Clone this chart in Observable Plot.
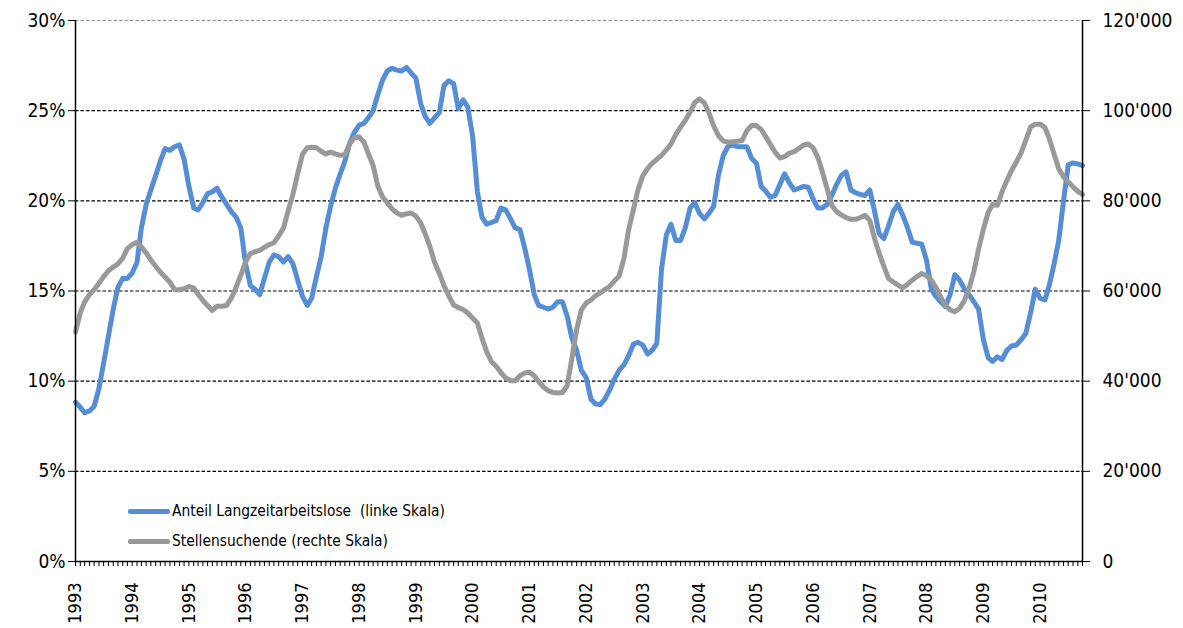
<!DOCTYPE html>
<html>
<head>
<meta charset="utf-8">
<script src="https://cdn.jsdelivr.net/npm/d3@7"></script>
<script src="https://cdn.jsdelivr.net/npm/@observablehq/plot@0.6"></script>
<style>
  html, body { margin: 0; padding: 0; background: #fff; }
  #wrap { position: relative; width: 1183px; height: 628px; font-family: 'DejaVu Sans Condensed', 'DejaVu Sans', sans-serif; font-stretch: condensed; }
  #legend { position: absolute; left: 128px; top: 496px; font-size: 15.4px; color: #000; }
  .item { display: flex; align-items: center; height: 30px; }
  .sw { width: 42px; height: 5px; border-radius: 2px; margin-right: 2px; }
</style>
</head>
<body>
<div id="wrap"><div id="legend"></div></div>
<script>
// Anteil Langzeitarbeitslose (%), monthly from Jan 1993
const startYear = 1993;
const langzeit = [
  8.83, 8.55, 8.25, 8.35, 8.6, 9.6, 11.0, 12.5, 14.0, 15.2, 15.7, 15.7,
  16.0, 16.6, 18.5, 19.8, 20.6, 21.4, 22.2, 22.9, 22.8, 23.0, 23.1, 22.3,
  20.8, 19.6, 19.5, 19.9, 20.4, 20.5, 20.7, 20.2, 19.8, 19.4, 19.1, 18.5,
  16.5, 15.3, 15.1, 14.8, 15.7, 16.6, 17.0, 16.9, 16.6, 16.9, 16.5, 15.6,
  14.7, 14.2, 14.6, 15.8, 16.9, 18.5, 19.7, 20.7, 21.5, 22.2, 23.2, 23.8,
  24.2, 24.3, 24.6, 25.0, 25.9, 26.7, 27.2, 27.35, 27.25, 27.2, 27.4, 27.1,
  26.8, 25.4, 24.7, 24.3, 24.6, 24.9, 26.4, 26.65, 26.5, 25.1, 25.6, 25.2,
  23.6, 20.5, 19.1, 18.7, 18.8, 18.9, 19.6, 19.5, 19.0, 18.5, 18.4, 17.4,
  16.2, 14.8, 14.2, 14.1, 14.0, 14.1, 14.4, 14.4, 13.6, 12.4, 11.7, 10.6,
  10.2, 9.0, 8.75, 8.7, 9.0, 9.5, 10.1, 10.6, 10.9, 11.4, 12.05, 12.15,
  12.0, 11.5, 11.7, 12.1, 16.2, 18.1, 18.7, 17.8, 17.8, 18.5, 19.6, 19.9,
  19.3, 19.0, 19.3, 19.7, 21.4, 22.5, 23.0, 23.1, 23.0, 23.0, 23.0, 22.35,
  22.1, 20.8, 20.55, 20.2, 20.3, 20.9, 21.5, 21.0, 20.6, 20.7, 20.8, 20.75,
  20.1, 19.6, 19.6, 19.8, 20.3, 20.9, 21.4, 21.6, 20.6, 20.45, 20.35, 20.3,
  20.6, 19.4, 18.2, 17.9, 18.6, 19.4, 19.8, 19.2, 18.5, 17.7, 17.65, 17.6,
  16.7, 15.1, 14.7, 14.4, 14.15, 14.8, 15.9, 15.6, 15.1, 14.8, 14.4, 14.0,
  12.3, 11.3, 11.1, 11.35, 11.2, 11.7, 11.95, 12.0, 12.3, 12.65, 13.8, 15.1,
  14.6, 14.5, 15.3, 16.5, 17.8, 20.0, 22.0, 22.1, 22.05, 21.95
];
// Stellensuchende (thousands), monthly from Jan 1993
const stellensuchende = [
  50.9, 55.2, 57.6, 59.2, 60.3, 61.7, 63.2, 64.5, 65.3, 66.0, 67.3, 69.4,
  70.3, 70.8, 69.8, 68.4, 66.9, 65.5, 64.2, 63.1, 61.9, 60.3, 60.3, 60.5,
  61.0, 60.7, 59.3, 57.9, 56.8, 55.7, 56.6, 56.6, 56.8, 58.4, 60.8, 63.5,
  66.5, 68.3, 68.7, 69.0, 69.7, 70.3, 70.7, 72.2, 74.0, 77.8, 81.5, 86.0,
  90.3, 91.8, 91.9, 91.8, 91.0, 90.4, 90.8, 90.4, 90.1, 90.2, 92.7, 94.0,
  94.2, 93.0, 90.5, 87.8, 83.3, 80.8, 79.6, 78.2, 77.3, 76.8, 77.1, 77.3,
  76.6, 75.1, 72.8, 69.9, 66.4, 63.9, 61.2, 58.9, 56.9, 56.3, 55.9, 55.1,
  54.0, 52.9, 49.6, 46.5, 44.3, 43.3, 41.9, 40.7, 40.1, 40.1, 41.2, 41.8,
  42.0, 41.2, 39.9, 38.7, 37.9, 37.5, 37.4, 37.5, 39.0, 45.0, 51.5, 55.8,
  57.3, 58.0, 58.9, 59.6, 60.3, 61.0, 62.2, 63.3, 67.2, 73.5, 78.0, 82.5,
  85.6, 87.2, 88.3, 89.2, 90.1, 91.3, 92.6, 94.7, 96.4, 97.8, 99.7, 101.8,
  102.6, 101.7, 99.6, 96.6, 94.5, 93.3, 93.0, 93.1, 93.2, 93.4, 95.6, 96.7,
  96.7, 95.8, 94.3, 92.5, 90.8, 89.5, 89.8, 90.6, 90.9, 91.6, 92.4, 92.6,
  91.8, 89.6, 86.5, 82.7, 79.0, 77.6, 76.9, 76.3, 75.9, 75.9, 76.3, 76.8,
  75.6, 71.6, 68.5, 65.5, 62.8, 62.0, 61.3, 60.7, 61.5, 62.4, 63.2, 63.9,
  63.4, 62.4, 60.8, 58.7, 56.8, 55.8, 55.4, 56.2, 57.9, 60.6, 64.3, 69.3,
  73.7, 77.4, 79.2, 79.0, 82.0, 84.5, 86.7, 88.6, 90.7, 93.4, 96.4, 97.0,
  97.0, 96.3, 93.8, 90.4, 87.1, 85.3, 84.2, 83.1, 82.1, 81.4
];
const years = [1993,1994,1995,1996,1997,1998,1999,2000,2001,2002,2003,2004,2005,2006,2007,2008,2009,2010];
const leftTicks = [0, 5, 10, 15, 20, 25, 30];          // percent
const rightTicks = [0, 20000, 40000, 60000, 80000, 100000, 120000];
const seriesNames = ["Anteil Langzeitarbeitslose  (linke Skala)", "Stellensuchende (rechte Skala)"];
const colors = ["#558ed5", "#999999"];

const months = langzeit.map((_, i) => new Date(Date.UTC(startYear, i, 1)));
const ratio = rightTicks[rightTicks.length - 1] / leftTicks[leftTicks.length - 1]; // 4000 per %
const rowsA = langzeit.map((v, i) => ({date: months[i], v}));
const rowsB = stellensuchende.map((v, i) => ({date: months[i], v: v * 1000 / ratio}));
const yearDates = years.map(y => new Date(Date.UTC(y, 0, 1)));
const fmtR = v => { const n = Math.round(v * ratio); return n === 0 ? "0" : d3.format(",")(n).replace(/,/g, "'"); };
const font = "'DejaVu Sans Condensed', 'DejaVu Sans', sans-serif";

const chart = Plot.plot({
  width: 1183, height: 628,
  marginLeft: 75, marginRight: 101, marginTop: 20, marginBottom: 67,
  style: {fontFamily: font, fontSize: "19px", background: "white", color: "black"},
  x: {type: "utc", domain: [months[0], months[months.length - 1]]},
  y: {domain: [0, 30]},
  marks: [
    Plot.ruleY(leftTicks.filter(t => t > 0 && t < 30), {stroke: "#000", strokeWidth: 1.2, strokeDasharray: "3.5,2"}),
    Plot.ruleY([30], {stroke: "#8c8c8c", strokeWidth: 1.2, strokeDasharray: "3.5,2"}),
    Plot.lineY(rowsA, {x: "date", y: "v", stroke: colors[0], strokeWidth: 5, strokeLinejoin: "round", strokeLinecap: "round"}),
    Plot.lineY(rowsB, {x: "date", y: "v", stroke: colors[1], strokeWidth: 5, strokeLinejoin: "round", strokeLinecap: "round"}),
    Plot.axisY({anchor: "left", ticks: leftTicks, tickFormat: d => d + "%", tickSize: 7, tickPadding: 3, label: null, fontSize: 19, stroke: "#000"}),
    Plot.axisY({anchor: "right", ticks: leftTicks, tickFormat: fmtR, tickSize: 7, tickPadding: 13, label: null, fontSize: 19, stroke: "#000"}),
    Plot.axisX({ticks: months, tickFormat: () => "", tickSize: 5, label: null, stroke: "#000"}),
    Plot.axisX({ticks: yearDates, tickFormat: d => String(d.getUTCFullYear()), tickSize: 0, tickPadding: 21, tickRotate: -90, label: null, fontSize: 18}),
    Plot.ruleX([months[0], months[months.length - 1]], {stroke: "#000", strokeWidth: 1.5}),
    Plot.ruleY([0], {stroke: "#000", strokeWidth: 1.5})
  ]
});
document.getElementById("wrap").prepend(chart);

const legend = document.getElementById("legend");
seriesNames.forEach((name, i) => {
  const item = document.createElement("div");
  item.className = "item";
  const sw = document.createElement("div");
  sw.className = "sw";
  sw.style.background = colors[i];
  const t = document.createElement("span");
  t.textContent = name;
  t.style.whiteSpace = "pre";
  item.append(sw, t);
  legend.append(item);
});
</script>
</body>
</html>
